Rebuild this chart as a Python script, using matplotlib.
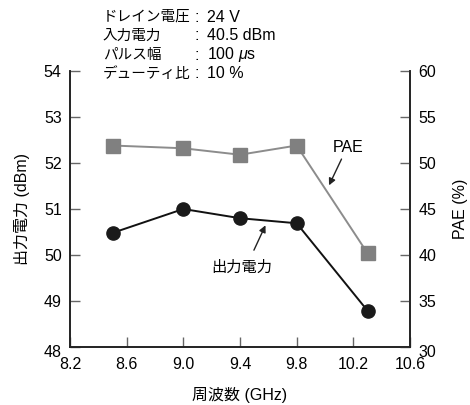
import matplotlib
matplotlib.use('Agg')
import matplotlib.pyplot as plt
import matplotlib.transforms as mtransforms

plt.rcParams['font.family'] = ['Liberation Sans', 'Noto Sans CJK JP']
plt.rcParams['mathtext.fontset'] = 'custom'
plt.rcParams['mathtext.it'] = 'Liberation Sans:italic'

# data
freq = [8.5, 9.0, 9.4, 9.8, 10.3]
pout = [50.48, 51.0, 50.8, 50.69, 48.79]
pae = [51.9, 51.6, 50.9, 51.9, 40.2]

x_ticks = [8.2, 8.6, 9.0, 9.4, 9.8, 10.2, 10.6]
x_labels = ['8.2', '8.6', '9.0', '9.4', '9.8', '10.2', '10.6']
pout_ticks = [48, 49, 50, 51, 52, 53, 54]
pae_ticks = [30, 35, 40, 45, 50, 55, 60]

cond_names = ['ドレイン電圧', '入力電力', 'パルス幅', 'デューティ比']
cond_values = ['24 V', '40.5 dBm', '100 $\\mathit{\\mu}$s', '10 %']

W, H = 470, 405
fig = plt.figure(figsize=(W / 100, H / 100), dpi=100)
ax = fig.add_axes([70 / W, 1 - 347 / H, 340 / W, 276 / H])
ax2 = ax.twinx()

fs = 11.5
spine_c = '#222222'
tick_c = '#666666'

ax.plot(freq, pout, color='#111111', lw=1.4, marker='o', ms=9.5,
        mfc='#1a1a1a', mec='#1a1a1a', zorder=3)
ax2.plot(freq, pae, color='#8c8c8c', lw=1.4, marker='s', ms=9.5,
         mfc='#808080', mec='#808080', zorder=3)

ax.set_xlim(8.2, 10.6)
ax.set_ylim(48, 54)
ax2.set_ylim(30, 60)
ax.set_xticks(x_ticks)
ax.set_xticklabels(x_labels)
ax.set_yticks(pout_ticks)
ax2.set_yticks(pae_ticks)

for a in (ax, ax2):
    a.spines['top'].set_visible(False)
    for s in ('left', 'right', 'bottom'):
        a.spines[s].set_color(spine_c)
        a.spines[s].set_linewidth(1.2)
ax.tick_params(axis='both', direction='in', length=7, width=1.0,
               color=tick_c, labelsize=fs, pad=6)
ax2.tick_params(axis='y', direction='in', length=7, width=1.0,
                color=tick_c, labelsize=fs, pad=6)
ax.tick_params(axis='x', pad=7)

# bottom y labels sit a little low in the original
shift = mtransforms.ScaledTranslation(0, -4 / 100, fig.dpi_scale_trans)
for lab in (ax.get_yticklabels()[0], ax2.get_yticklabels()[0]):
    lab.set_transform(lab.get_transform() + shift)

ax.set_xlabel('周波数 (GHz)', fontsize=fs, labelpad=11)
ax.set_ylabel('出力電力 (dBm)', fontsize=fs, labelpad=10)
ax2.set_ylabel('PAE (%)', fontsize=fs, labelpad=12)

# annotations
ax2.annotate('', xy=(10.02, 47.3), xytext=(10.125, 50.7),
             arrowprops=dict(arrowstyle='-|>', color='#222222', lw=1.0,
                             mutation_scale=10))
ax2.text(10.16, 51.7, 'PAE', fontsize=fs, ha='center', va='center')
ax.annotate('', xy=(9.588, 50.70), xytext=(9.49, 50.05),
            arrowprops=dict(arrowstyle='-|>', color='#222222', lw=1.0,
                            mutation_scale=10))
ax.text(9.41, 49.72, '出力電力', fontsize=fs - 0.5, ha='center', va='center')

# measurement conditions
for i, (n, v) in enumerate(zip(cond_names, cond_values)):
    y = 1 - (17 + 19 * i) / H
    fig.text(103 / W, y, n, fontsize=10.5, ha='left', va='center')
    fig.text(197 / W, y, ':', fontsize=fs, ha='center', va='center')
    fig.text(207 / W, y, v, fontsize=fs, ha='left', va='center')

fig.savefig('out.png', dpi=100)
